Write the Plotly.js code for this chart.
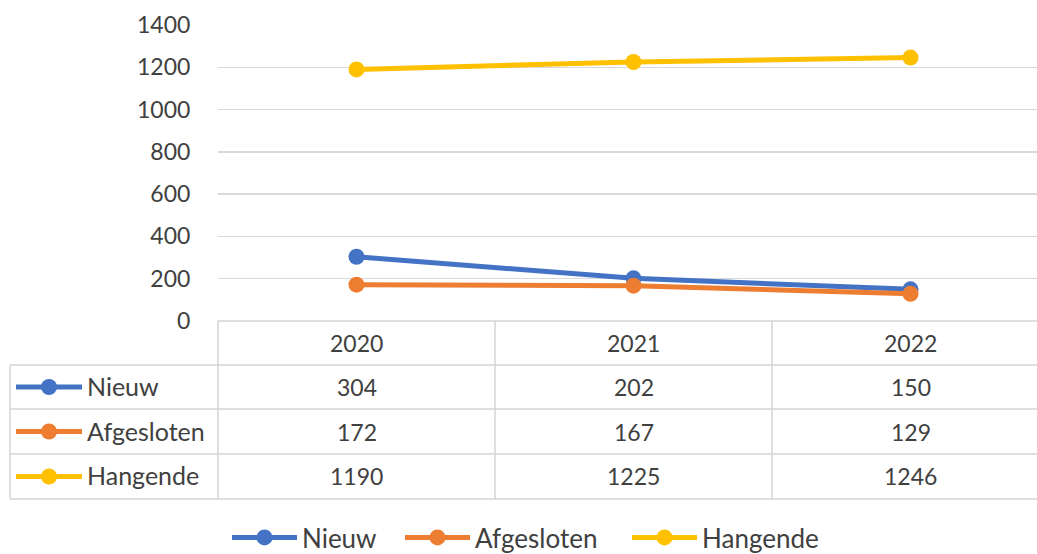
<!DOCTYPE html>
<html><head><meta charset="utf-8">
<script src="https://cdn.plot.ly/plotly-3.0.1.min.js"></script>
<style>html,body{margin:0;padding:0;background:#fff}#chart{width:1037px;height:554px}</style>
</head><body><div id="chart"></div>
<script>
const years = ['2020','2021','2022'];
const seriesNames = ['Nieuw','Afgesloten','Hangende'];
const nieuw = [304,202,150];
const afgesloten = [172,167,129];
const hangende = [1190,1225,1246];
const yTicks = [0,200,400,600,800,1000,1200,1400];

const colors = ['#4472C4','#ED7D31','#FFC000'];
const values = [nieuw, afgesloten, hangende];
const W=1037,H=554, L=218, R=1037, T=25, B=321;
const pw=R-L, ph=B-T;
const px = x => (x-L)/pw;
const py = y => (B-y)/ph;
const txt = '#404040', grid='#d9d9d9', font='Lato';
const numSize = 23, labSize = 25;
const legendIds = ['legend','legend2','legend3'];
const legendLeft = [227,400,627];

const traces = seriesNames.map((n,i)=>({
  type:'scatter', mode:'lines+markers', name:n, x:years, y:values[i],
  legend:legendIds[i],
  line:{color:colors[i], width:5}, marker:{color:colors[i], size:16},
  cliponaxis:false
}));

const rowEdges = [321,365,409,454,499];
const shapes = [];
const lc = '#d4d4d4';
shapes.push({type:'line',xref:'paper',yref:'paper',x0:0,x1:1,y0:py(rowEdges[0]),y1:py(rowEdges[0]),line:{color:lc,width:1.5}});
for(let k=1;k<rowEdges.length;k++){
  shapes.push({type:'line',xref:'paper',yref:'paper',x0:px(10),x1:1,y0:py(rowEdges[k]),y1:py(rowEdges[k]),line:{color:lc,width:1.5}});
}
shapes.push({type:'line',xref:'paper',yref:'paper',x0:px(10),x1:px(10),y0:py(rowEdges[1]),y1:py(rowEdges[4]),line:{color:lc,width:1.5}});
shapes.push({type:'line',xref:'paper',yref:'paper',x0:0,x1:0,y0:py(rowEdges[0]),y1:py(rowEdges[4]),line:{color:lc,width:1.5}});
[0.5,1.5].forEach(v=>shapes.push({type:'line',xref:'x',yref:'paper',x0:v,x1:v,y0:py(rowEdges[0]),y1:py(rowEdges[4]),line:{color:lc,width:1.5}}));

const annotations = [];
const ys = 0;
years.forEach((yr,j)=>annotations.push({xref:'x',yref:'paper',x:j,y:py((rowEdges[0]+rowEdges[1])/2),yshift:ys,text:yr,showarrow:false,font:{family:font,size:numSize,color:txt},xanchor:'center',yanchor:'middle'}));
seriesNames.forEach((n,i)=>{
  const cy = (rowEdges[i+1]+rowEdges[i+2])/2;
  shapes.push({type:'line',xref:'paper',yref:'paper',x0:px(16),x1:px(82),y0:py(cy),y1:py(cy),line:{color:colors[i],width:5}});
  shapes.push({type:'circle',xref:'paper',yref:'paper',x0:px(41),x1:px(57),y0:py(cy-8),y1:py(cy+8),fillcolor:colors[i],line:{width:0}});
  annotations.push({xref:'paper',yref:'paper',x:px(85),y:py(cy),yshift:ys+1,text:n,showarrow:false,font:{family:font,size:labSize,color:txt},xanchor:'left',yanchor:'middle'});
  years.forEach((yr,j)=>annotations.push({xref:'x',yref:'paper',x:j,y:py(cy),yshift:ys,text:String(values[i][j]),showarrow:false,font:{family:font,size:numSize,color:txt},xanchor:'center',yanchor:'middle'}));
});

const layout = {
  width:W, height:H, margin:{l:L,r:W-R,t:T,b:H-B,pad:0,autoexpand:false},
  paper_bgcolor:'#fff', plot_bgcolor:'#fff', showlegend:true,
  font:{family:font,color:txt,size:numSize},
  xaxis:{type:'category',range:[-0.5,-0.5+pw/277],showticklabels:false,showgrid:false,zeroline:false,showline:false,fixedrange:true},
  yaxis:{range:[0,1400],tickvals:yTicks,ticktext:yTicks.map(String),showgrid:true,gridcolor:grid,gridwidth:1.5,zeroline:false,showline:false,
    ticks:'outside',ticklen:22,tickcolor:'rgba(0,0,0,0)',tickfont:{family:font,size:numSize,color:txt}},
  shapes, annotations
};
legendIds.forEach((id,i)=>{
  layout[id] = {orientation:'h',x:px(legendLeft[i]),xanchor:'left',y:py(514),yanchor:'top',itemwidth:65,
    font:{family:font,size:26,color:txt},bgcolor:'rgba(0,0,0,0)',borderwidth:0};
});
Plotly.newPlot('chart', traces, layout, {displayModeBar:false, staticPlot:true});
</script></body></html>
